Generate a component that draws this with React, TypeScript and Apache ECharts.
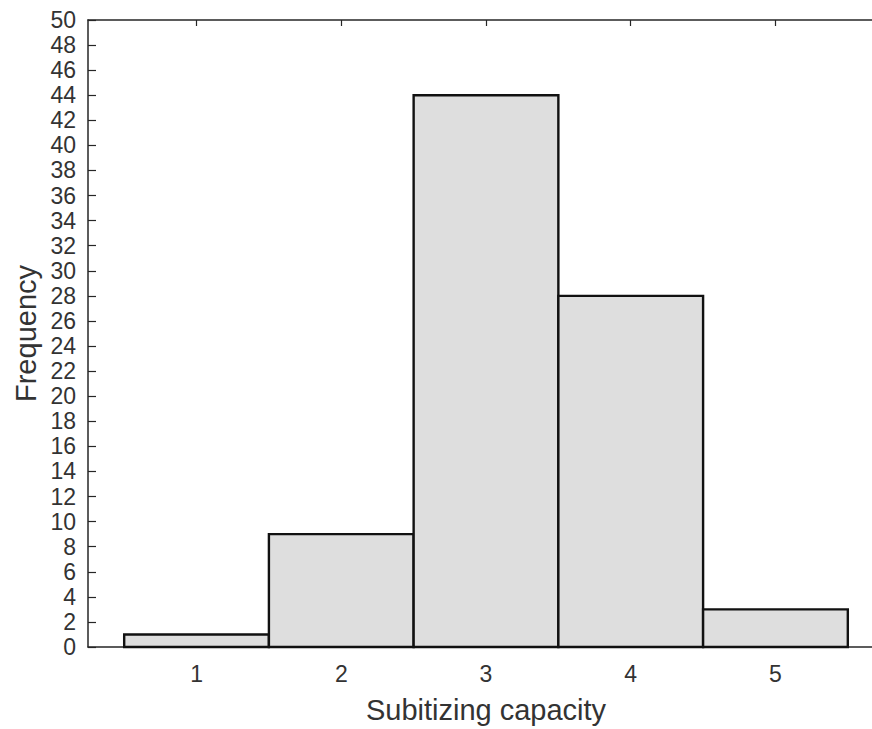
import React, { useEffect, useRef } from "react";
import * as echarts from "echarts";

const categories = [1, 2, 3, 4, 5];
const frequencies = [1, 9, 44, 28, 3];
const yTicks = [0, 50, 2];
const xTitle = "Subitizing capacity";
const yTitle = "Frequency";

export default function App() {
  const ref = useRef<HTMLDivElement>(null);
  useEffect(() => {
    if (!ref.current) return;
    const chart = echarts.init(ref.current, null, { renderer: "svg" });
    const font = "'Liberation Sans', Arial, Helvetica, sans-serif";
    const axisColor = "#262626";
    const labelColor = "#333333";
    const data = categories.map((c, i) => [c, frequencies[i]]);
    chart.setOption({
      animation: false,
      backgroundColor: "#ffffff",
      grid: { left: 88, top: 20, width: 796, height: 628, containLabel: false },
      xAxis: [
        {
          type: "value",
          min: 0.25,
          max: 5.75,
          position: "bottom",
          name: xTitle,
          nameLocation: "middle",
          nameGap: 48,
          nameMoveOverlap: false,
          nameTextStyle: { fontFamily: font, fontSize: 29, color: labelColor },
          axisLine: { show: true, lineStyle: { color: axisColor, width: 1.5 } },
          axisTick: {
            show: true,
            inside: true,
            length: 6,
            customValues: categories,
            lineStyle: { color: axisColor, width: 1.2 },
          },
          axisLabel: {
            customValues: categories,
            fontFamily: font,
            fontSize: 23,
            color: labelColor,
            margin: 15,
          },
          splitLine: { show: false },
        },
        {
          type: "value",
          min: 0.25,
          max: 5.75,
          position: "top",
          axisLine: { show: true, lineStyle: { color: axisColor, width: 1.5 } },
          axisTick: {
            show: true,
            inside: true,
            length: 6,
            customValues: categories,
            lineStyle: { color: axisColor, width: 1.2 },
          },
          axisLabel: { show: false },
          splitLine: { show: false },
        },
      ],
      yAxis: {
        type: "value",
        min: yTicks[0],
        max: yTicks[1],
        interval: yTicks[2],
        name: yTitle,
        nameLocation: "middle",
        nameGap: 48,
        nameMoveOverlap: false,
        nameTextStyle: { fontFamily: font, fontSize: 29, color: labelColor },
        axisLine: { show: true, lineStyle: { color: axisColor, width: 1.5 } },
        axisTick: { show: true, inside: true, length: 8, lineStyle: { color: axisColor, width: 1.2 } },
        axisLabel: { fontFamily: font, fontSize: 23, color: labelColor, margin: 12 },
        splitLine: { show: false },
      },
      series: [
        {
          type: "custom",
          xAxisIndex: 0,
          data,
          renderItem: (params: any, api: any) => {
            const x = api.value(0);
            const y = api.value(1);
            const p0 = api.coord([x - 0.5, y]);
            const p1 = api.coord([x + 0.5, 0]);
            return {
              type: "rect",
              shape: { x: p0[0], y: p0[1], width: p1[0] - p0[0], height: p1[1] - p0[1] },
              style: { fill: "#dedede", stroke: "#111111", lineWidth: 2.4 },
            };
          },
        },
      ],
    });
    return () => chart.dispose();
  }, []);
  return (
    <div style={{ position: "fixed", left: 0, top: 0, width: 872, height: 729, overflow: "hidden", background: "#fff" }}>
      <div ref={ref} style={{ width: 900, height: 729 }} />
    </div>
  );
}
